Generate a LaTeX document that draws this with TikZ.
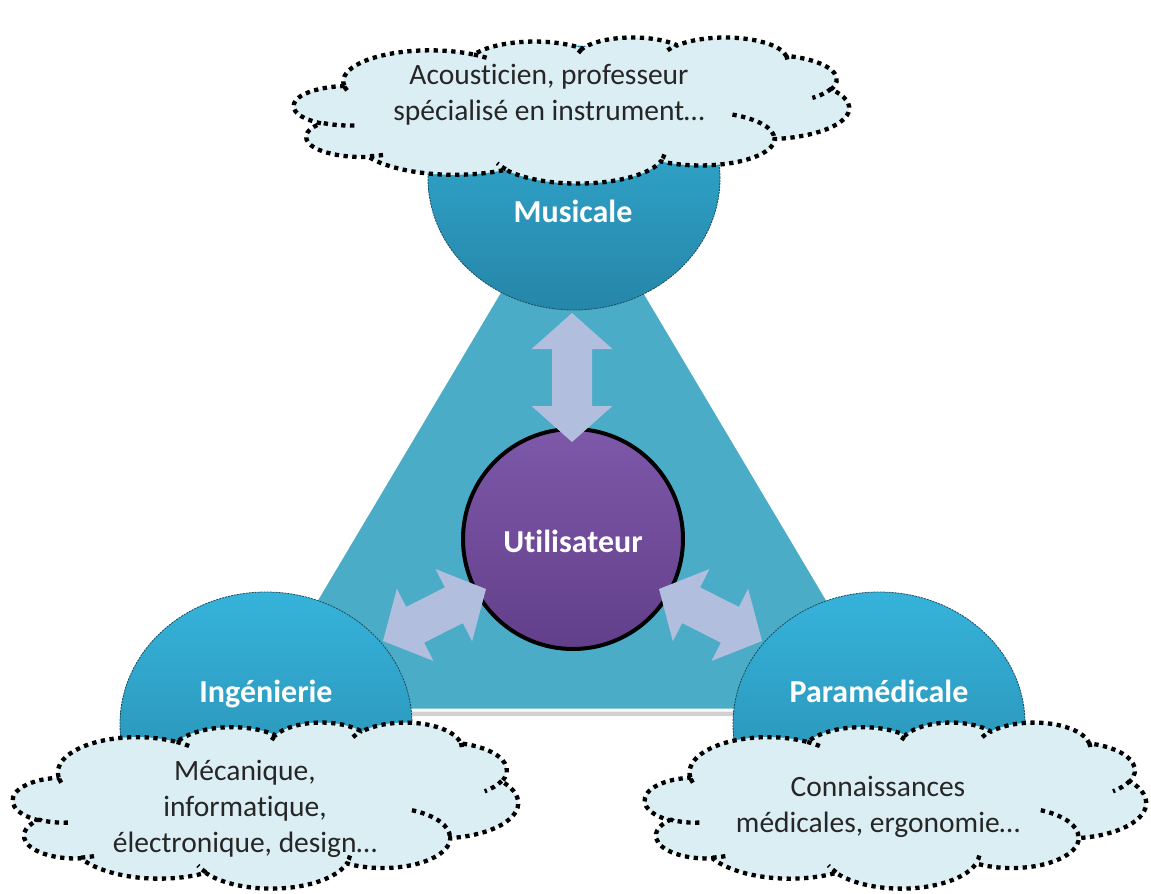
\documentclass[tikz,border=0pt]{standalone}
\usepackage{fontspec}
\setmainfont{Carlito}[Ligatures=NoCommon]
\usetikzlibrary{calc,shapes.geometric}
\definecolor{tri}{HTML}{4AACC6}
\definecolor{circtop}{HTML}{36B3DB}
\definecolor{circbot}{HTML}{2586A8}
\definecolor{usrtop}{HTML}{7E58A9}
\definecolor{usrbot}{HTML}{623F8A}
\definecolor{arrowc}{HTML}{B1BEDE}
\definecolor{cloudfill}{HTML}{DAEEF3}
\definecolor{txt}{HTML}{262626}
\definecolor{circline}{HTML}{1D4A5C}

% elliptical arc given with DrawingML-style visual angles
\newcommand\carc[4]{arc[x radius=#1, y radius=#2,
  start angle={atan2((#1)*sin(#3),(#2)*cos(#3))},
  delta angle={mod(atan2((#1)*sin((#3)+(#4)),(#2)*cos((#3)+(#4)))-atan2((#1)*sin(#3),(#2)*cos(#3))+720,360)}]}

\newcommand\cloudouter{(39.00,143.70)
 \carc{67.53}{91.90}{-190.4875}{123.7805}
 \carc{53.33}{72.67}{-144.1024}{89.9452}
 \carc{43.65}{59.45}{-145.8079}{99.7230}
 \carc{48.57}{65.95}{-130.9861}{117.2417}
 \carc{53.33}{72.73}{-78.7089}{109.0269}
 \carc{67.75}{92.20}{-46.2673}{130.2690}
 \carc{57.85}{78.67}{0.6250}{114.0333}
 \carc{67.52}{92.15}{22.4516}{115.1726}
 \carc{77.20}{105.43}{66.2426}{75.7110}
 \carc{43.60}{59.18}{-274.9421}{146.7356}
 \carc{43.45}{59.45}{-246.8285}{152.5189}
 -- cycle}

\newcommand\cloudinner{(46.93,261.77) \carc{43.45}{59.45}{86.7420}{26.4295}
 (69.28,348.99) \carc{43.60}{59.18}{73.6105}{11.4475}
 (164.78,390.90) \carc{67.52}{92.15}{137.6242}{14.0811}
 (288.27,347.51) \carc{67.52}{92.15}{6.4533}{15.9984}
 (341.29,229.54) \carc{57.85}{78.67}{-70.2924}{70.9174}
 (417.98,153.54) \carc{53.33}{72.73}{30.3180}{27.7515}
 (383.24,54.26) \carc{48.57}{65.95}{-13.7443}{14.8589}
 (290.78,39.52) \carc{48.57}{65.95}{-149.1815}{18.1954}
 (221.41,47.20) \carc{43.65}{59.45}{-163.4943}{17.6864}
 (140.00,51.92) \carc{67.53}{91.90}{-66.7070}{12.3194}
 (41.27,157.89) \carc{67.53}{91.90}{157.6544}{11.8582}}

% #1 x0, #2 y0, #3 x unit, #4 y unit
\newcommand\drawcloud[4]{%
 \begin{scope}[shift={(#1,#2)}, x=#3, y=#4]
  \path[cloudbody] \cloudouter;
  \path[clouddots] \cloudinner;
 \end{scope}}

% block double arrow between two named points: #1 prefix, #2 tip, #3 tip
\newcommand\blockarr[3]{%
 \coordinate (#1a) at ($(#2)!36pt!(#3)$);
 \coordinate (#1b) at ($(#3)!36pt!(#2)$);
 \fill[arrowc] (#2) -- ($(#1a)!40.5pt!90:(#3)$) -- ($(#1a)!20pt!90:(#3)$)
   -- ($(#1b)!20pt!-90:(#2)$) -- ($(#1b)!40.5pt!-90:(#2)$) -- (#3)
   -- ($(#1b)!40.5pt!90:(#2)$) -- ($(#1b)!20pt!90:(#2)$)
   -- ($(#1a)!20pt!-90:(#3)$) -- ($(#1a)!40.5pt!-90:(#3)$) -- cycle;}

\begin{document}
\begin{tikzpicture}[x=1pt,y=-1pt,
  bigcirc/.style={ellipse, minimum width=292pt, minimum height=264pt, inner sep=0pt, top color=circtop,
     bottom color=circbot, draw=circline, line width=0.8pt, dash pattern=on 2pt off 1pt},
  usrcirc/.style={circle, minimum size=220pt, inner sep=0pt, top color=usrtop,
     bottom color=usrbot, draw=black, line width=4pt},
  cloudbody/.style={fill=cloudfill, draw=black, line width=4.3pt, dash pattern=on 4.3pt off 4.5pt},
  clouddots/.style={draw=black, line width=4.3pt, dash pattern=on 4.3pt off 4.5pt},
  cloudtxt/.style={font=\fontsize{29.5}{36}\selectfont, text=txt, align=center, inner sep=0pt},
  lbl/.style={font=\fontsize{32}{38}\selectfont\bfseries, text=white, anchor=base, inner sep=0pt}]
\useasboundingbox (0,0) rectangle (1151,894);
\fill[white] (0,0) rectangle (1151,894);

% triangle
\coordinate (apex) at (572,170);
\coordinate (tl) at (251,710);
\coordinate (tr) at (893,710);
\fill[black, opacity=0.18] ($(apex)+(0,6)$) -- ($(tl)+(0,6)$) -- ($(tr)+(0,6)$) -- cycle;
\fill[tri, draw=white, line width=3pt] (apex) -- (tl) -- (tr) -- cycle;

% domain circles
\node[bigcirc] (mus) at (574,178) {};
\node[bigcirc] (ing) at (266,724) {};
\node[bigcirc] (para) at (879,724) {};

% user circle
\node[usrcirc] (usr) at (573,539) {};

% arrows
\coordinate (t1) at (572,313);
\coordinate (u1) at (572,442);
\coordinate (t2) at (383,641);
\coordinate (u2) at (486,589);
\coordinate (t3) at (762,641);
\coordinate (u3) at (659,589);
\blockarr{ar1}{t1}{u1}
\blockarr{ar2}{t2}{u2}
\blockarr{ar3}{t3}{u3}

% labels
\node[lbl] (muslbl) at (573,222) {Musicale};
\node[lbl] (usrlbl) at (573,552) {Utilisateur};
\node[lbl] (inglbl) at (266,702) {Ingénierie};
\node[lbl] (paralbl) at (879,702) {Paramédicale};

% clouds
\drawcloud{294}{37}{1.28472pt}{-0.3380pt}
\drawcloud{13}{722}{1.16898pt}{-0.38426pt}
\drawcloud{645}{722}{1.15972pt}{-0.38426pt}

\node[cloudtxt] (ctop) at (549,95) {Acousticien, professeur\\spécialisé en instrument…};
\node[cloudtxt] (cleft) at (245,809) {Mécanique,\\informatique,\\électronique, design…};
\node[cloudtxt] (cright) at (878,807) {Connaissances\\médicales, ergonomie…};
\end{tikzpicture}
\end{document}
